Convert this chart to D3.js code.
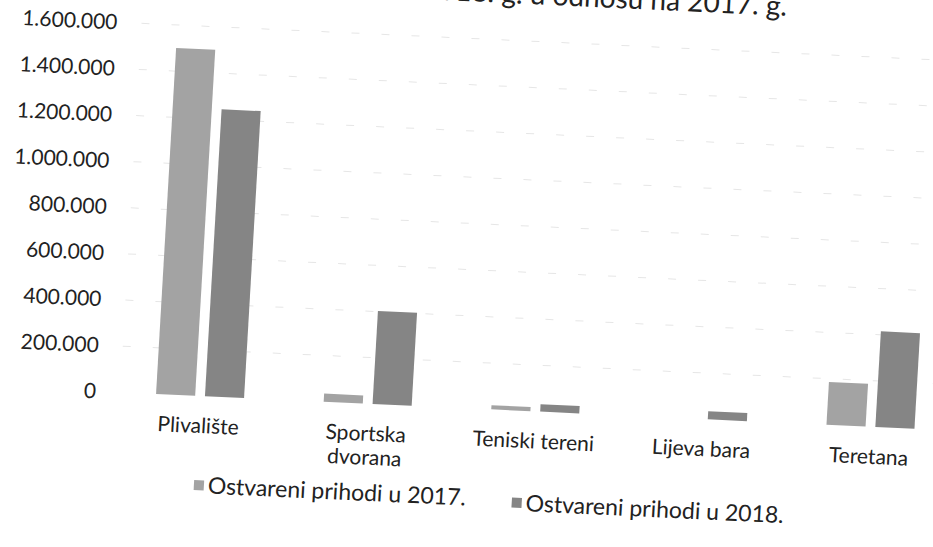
<html>
<head>
<meta charset="utf-8">
<style>
  body { margin: 0; background: #fff; }
  text { font-family: Lato, "Open Sans", sans-serif; fill: #222; }
</style>
</head>
<body>
<div id="chart"></div>
<script src="https://d3js.org/d3.v7.min.js"></script>
<script>
// values
var categories = ["Plivalište", "Sportska dvorana", "Teniski tereni", "Lijeva bara", "Teretana"];
var series = ["Ostvareni prihodi u 2017.", "Ostvareni prihodi u 2018."];
var prihodi2017 = [1500000, 35000, 18000, 0, 186000];
var prihodi2018 = [1244000, 403000, 32000, 35000, 415000];
var yTicks = [0, 200000, 400000, 600000, 800000, 1000000, 1200000, 1400000, 1600000];
var title = "Ostvareni prihodi u 2018. g. u odnosu na 2017. g.";

var colors = ["#a3a3a3", "#858585"];

var svg = d3.select("#chart").append("svg")
  .attr("width", 933)
  .attr("height", 547);

// the scan is slightly tilted, so the whole chart sits in a sheared group
var g = svg.append("g")
  .attr("transform", "translate(157,395) matrix(1,0.046,-0.058,1,0,0) translate(-157,-395)");

var y = d3.scaleLinear().domain([0, 1600000]).range([394, 25]);
var x0 = d3.scaleBand().domain(categories).range([116, 954]);
var x1 = d3.scaleBand().domain(series).range([40, 128]).paddingInner(0.2);

var loc = d3.formatLocale({decimal: ",", thousands: ".", grouping: [3], currency: ["", ""]});
var fmt = loc.format(",");

// title, mostly cut off at the top of the scan
g.append("text")
  .attr("x", 763)
  .attr("y", -12)
  .attr("text-anchor", "end")
  .style("font-size", "28px")
  .text(title);

// faint gridlines
g.append("g").selectAll("line")
  .data(yTicks.slice(1))
  .enter().append("line")
  .attr("x1", 120).attr("x2", 950)
  .attr("y1", function(d) { return y(d); })
  .attr("y2", function(d) { return y(d); })
  .attr("stroke", "#e6e6e6")
  .attr("stroke-dasharray", "8 22");

var yAxis = g.append("g")
  .attr("transform", "translate(96,0)")
  .call(d3.axisLeft(y).tickValues(yTicks).tickFormat(fmt).tickSize(0).tickPadding(0));
yAxis.select(".domain").remove();
yAxis.selectAll("text")
  .style("font-size", "21px")
  .style("font-family", "Lato, 'Open Sans', sans-serif")
  .attr("fill", "#222");

var rows = categories.map(function(c, i) {
  return {cat: c, vals: [prihodi2017[i], prihodi2018[i]]};
});

var groups = g.append("g").selectAll("g")
  .data(rows)
  .enter().append("g")
  .attr("transform", function(d) { return "translate(" + x0(d.cat) + ",0)"; });

groups.selectAll("rect")
  .data(function(d) { return d.vals.map(function(v, j) { return {s: series[j], v: v, j: j}; }); })
  .enter().append("rect")
  .attr("x", function(d) { return x1(d.s); })
  .attr("width", x1.bandwidth())
  .attr("y", function(d) { return y(d.v); })
  .attr("height", function(d) { return y(0) - y(d.v); })
  .attr("fill", function(d) { return colors[d.j]; });

// category labels, wrapped where Excel wrapped them
var wrap = {"Sportska dvorana": ["Sportska", "dvorana"]};
groups.each(function(d) {
  var lines = wrap[d.cat] || [d.cat];
  var t = d3.select(this).append("text")
    .attr("text-anchor", "middle")
    .style("font-size", "21px");
  lines.forEach(function(l, k) {
    t.append("tspan")
      .attr("x", x0.bandwidth() / 2)
      .attr("y", 431 + k * 24)
      .text(l);
  });
});

// legend
var legX = [199, 517];
var leg = g.append("g").selectAll("g")
  .data(series)
  .enter().append("g")
  .attr("transform", function(d, i) { return "translate(" + legX[i] + "," + (484 + i * 3) + ")"; });
leg.append("rect")
  .attr("x", 0).attr("y", -6)
  .attr("width", 10).attr("height", 10)
  .attr("fill", function(d, i) { return colors[i]; });
leg.append("text")
  .attr("x", 14).attr("y", 7)
  .style("font-size", "23px")
  .text(function(d) { return d; });
</script>
</body>
</html>
